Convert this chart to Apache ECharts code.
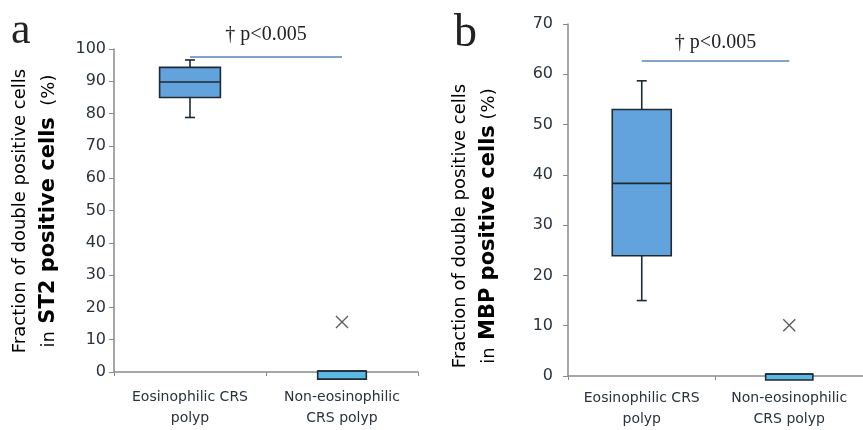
<!DOCTYPE html>
<html><head><meta charset="utf-8">
<script src="https://cdn.jsdelivr.net/npm/echarts@6/dist/echarts.min.js"></script>
<style>html,body{margin:0;padding:0;background:#fff}#c{width:863px;height:430px}</style>
</head><body><div id="c"></div>
<script>
// ---- data ----
const categories = ['Eosinophilic CRS\npolyp', 'Non-eosinophilic\nCRS polyp'];
// [category index, min, Q1, median, Q3, max]
const st2Boxes = [[0, 78.8, 85.0, 89.8, 94.3, 96.6], [1, -2.2, -2.2, 0.3, 0.3, 0.3]];
const st2Outliers = [[1, 15.5]];
const mbpBoxes = [[0, 15.0, 23.9, 38.3, 53.0, 58.7], [1, -0.8, -0.8, 0.4, 0.4, 0.4]];
const mbpOutliers = [[1, 10.1]];
const st2Axis = [0, 100, 10];
const mbpAxis = [0, 70, 10];
const pText = '† p<0.005';
const st2PLevel = 97.5;
const mbpPLevel = 62.6;

// ---- styles ----
const boxFracs = [0.40, 0.32];
const boxFills = ['#62a3dd', '#5bb8e0'];
const darkStroke = '#1f2a33';
const axisColor = '#8a8a8a';
const textColor = '#2a333d';
const sans = 'DejaVu Sans';

function boxRender(params, api) {
  const ci = api.value(0);
  const v = [1, 2, 3, 4, 5].map(i => api.value(i));
  const p = v.map(val => api.coord([ci, val]));
  const bw = api.size([1, 0])[0] * boxFracs[ci];
  const x = p[0][0];
  const st = { stroke: darkStroke, lineWidth: 1.6 };
  const cap = 5;
  const ch = [];
  if (p[4][1] < p[3][1] - 0.5) {
    ch.push({ type: 'line', shape: { x1: x, y1: p[3][1], x2: x, y2: p[4][1] }, style: st });
    ch.push({ type: 'line', shape: { x1: x - cap, y1: p[4][1], x2: x + cap, y2: p[4][1] }, style: st });
  }
  if (p[0][1] > p[1][1] + 0.5) {
    ch.push({ type: 'line', shape: { x1: x, y1: p[1][1], x2: x, y2: p[0][1] }, style: st });
    ch.push({ type: 'line', shape: { x1: x - cap, y1: p[0][1], x2: x + cap, y2: p[0][1] }, style: st });
  }
  ch.push({ type: 'rect', shape: { x: x - bw / 2, y: p[3][1], width: bw, height: p[1][1] - p[3][1] },
    style: { fill: boxFills[ci], stroke: darkStroke, lineWidth: 1.6 } });
  ch.push({ type: 'line', shape: { x1: x - bw / 2, y1: p[2][1], x2: x + bw / 2, y2: p[2][1] }, style: st });
  return { type: 'group', children: ch };
}

function xAxisCfg(gi, margin) {
  return {
    type: 'category', gridIndex: gi, data: categories,
    axisLine: { lineStyle: { color: axisColor, width: 1.5 } },
    axisTick: { show: true, length: 4, lineStyle: { color: axisColor } },
    axisLabel: { interval: 0, hideOverlap: false, color: textColor, fontFamily: sans, fontSize: 14, lineHeight: 21, margin: margin },
    splitLine: { show: false }
  };
}
function yAxisCfg(gi, ax, margin) {
  return {
    type: 'value', gridIndex: gi, min: ax[0], max: ax[1], interval: ax[2],
    axisLine: { show: true, lineStyle: { color: axisColor, width: 1.5 } },
    axisTick: { show: true, length: 5, lineStyle: { color: axisColor } },
    axisLabel: { color: textColor, fontFamily: sans, fontSize: 16, margin: margin },
    splitLine: { show: false }
  };
}
function outlierSeries(gi, data, level, dist) {
  return {
    type: 'scatter', xAxisIndex: gi, yAxisIndex: gi, data: data,
    symbol: 'path://M0,0L10,10M10,0L0,10', symbolSize: 12,
    itemStyle: { color: 'none', borderColor: '#333', borderWidth: 1.4 },
    markLine: {
      symbol: 'none', silent: true,
      lineStyle: { color: '#5a86b6', width: 1.6, type: 'solid' },
      label: { show: true, position: 'insideMiddleTop', formatter: pText, distance: dist,
        fontFamily: 'Liberation Serif', fontSize: 20, color: '#222' },
      data: [[{ coord: [0, level] }, { coord: [1, level] }]]
    }
  };
}
function yTitle(x, y, name, gap) {
  return {
    type: 'text', x: x, y: y, rotation: Math.PI / 2,
    style: {
      text: '{f|Fraction of double positive cells}\n{s|in}{b|' + name + '}{p|' + gap + '(%)}',
      align: 'center', verticalAlign: 'middle',
      rich: {
        f: { fontFamily: sans, fontSize: 18, color: textColor, lineHeight: 26 },
        s: { fontFamily: sans, fontSize: 18, color: textColor, lineHeight: 32 },
        b: { fontFamily: sans, fontSize: 21, fontWeight: 'bold', color: '#1e2630', lineHeight: 32 },
        p: { fontFamily: sans, fontSize: 18, color: textColor, lineHeight: 32 }
      }
    }
  };
}

const chart = echarts.init(document.getElementById('c'), null, { renderer: 'canvas' });
chart.setOption({
  backgroundColor: '#fff',
  animation: false,
  grid: [
    { left: 114, right: 445, top: 49, bottom: 58 },
    { left: 568, right: -5, top: 24, bottom: 52 }
  ],
  xAxis: [xAxisCfg(0, 15), xAxisCfg(1, 12)],
  yAxis: [yAxisCfg(0, st2Axis, 8), yAxisCfg(1, mbpAxis, 15)],
  series: [
    { type: 'custom', xAxisIndex: 0, yAxisIndex: 0, data: st2Boxes, renderItem: boxRender,
      encode: { x: 0, y: [1, 2, 3, 4, 5] }, clip: false },
    outlierSeries(0, st2Outliers, st2PLevel, 12),
    { type: 'custom', xAxisIndex: 1, yAxisIndex: 1, data: mbpBoxes, renderItem: boxRender,
      encode: { x: 0, y: [1, 2, 3, 4, 5] }, clip: false },
    outlierSeries(1, mbpOutliers, mbpPLevel, 8)
  ],
  graphic: [
    { type: 'text', x: 11, y: 31, style: { text: 'a', fontFamily: 'Liberation Serif', fontSize: 44, fill: '#222', verticalAlign: 'middle' } },
    { type: 'text', x: 454, y: 34, style: { text: 'b', fontFamily: 'Liberation Serif', fontSize: 46, fill: '#222', verticalAlign: 'middle' } },
    yTitle(36, 211, ' ST2 positive cells', '  '),
    yTitle(476, 226, ' MBP positive cells', ' ')
  ]
});
</script></body></html>
